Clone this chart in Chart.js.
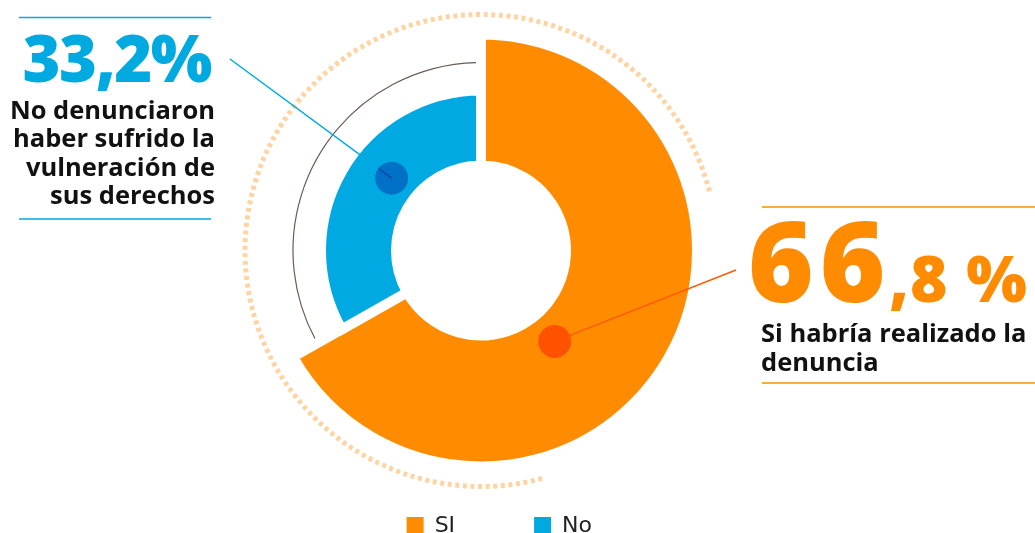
<!DOCTYPE html>
<html lang="es">
<head>
<meta charset="utf-8">
<title>Denuncia</title>
<script src="https://cdn.jsdelivr.net/npm/chart.js@4.4.1/dist/chart.umd.min.js"></script>
<style>
  html, body { margin: 0; padding: 0; background: #fff; overflow: hidden; }
  #clip { width: 1035px; height: 533px; overflow: hidden; }
  #wrap { position: relative; width: 1035px; height: 547px; }
</style>
</head>
<body>
<div id="clip">
  <div id="wrap"><canvas id="chart"></canvas></div>
</div>
<script>
// DATOS
const labels = ["SI", "No"];
const values = [66.8, 33.2];
const colors = ["#ff8c00", "#00a9e1"];
const leftText = ["No denunciaron", "haber sufrido la", "vulneración de", "sus derechos"];
const rightText = ["Si habría realizado la", "denuncia"];

// radios de cada anillo (px) - el naranja es mas grande
const ringOuter = [216, 160];
const ringInner = 85;

const total = values.reduce((a, b) => a + b, 0);
const pct = (v) => v.toFixed(1).replace(".", ",");

// grados desde arriba, sentido horario -> radianes del canvas
const rad = (deg) => ((deg - 90) * Math.PI) / 180;

function drawRule(ctx, x1, x2, y, color) {
  ctx.strokeStyle = color;
  ctx.lineWidth = 1.5;
  ctx.beginPath();
  ctx.moveTo(x1, y);
  ctx.lineTo(x2, y);
  ctx.stroke();
}

function drawLeader(ctx, cx, cy, angle, r, toX, toY, lineColor, dotColor, innerColor) {
  const px = cx + Math.cos(rad(angle)) * r;
  const py = cy + Math.sin(rad(angle)) * r;
  ctx.strokeStyle = lineColor;
  ctx.lineWidth = 1.5;
  ctx.beginPath();
  ctx.moveTo(toX, toY);
  ctx.lineTo(px, py);
  ctx.stroke();
  ctx.fillStyle = dotColor;
  ctx.beginPath();
  ctx.arc(px, py, 16.5, 0, Math.PI * 2);
  ctx.fill();
  // trozo de linea encima del punto
  const a = Math.atan2(toY - py, toX - px);
  ctx.strokeStyle = innerColor;
  ctx.beginPath();
  ctx.moveTo(px, py);
  ctx.lineTo(px + Math.cos(a) * 16, py + Math.sin(a) * 16);
  ctx.stroke();
}

const decorPlugin = {
  id: "decor",
  afterDatasetsUpdate(chart) {
    const arcs = chart.getDatasetMeta(0).data;
    arcs.forEach((arc, i) => {
      arc.outerRadius = ringOuter[i];
      arc.innerRadius = ringInner;
    });
  },
  beforeDatasetsDraw(chart) {
    const ctx = chart.ctx;
    const arc = chart.getDatasetMeta(0).data[0];
    const cx = arc.x;
    const cy = arc.y;
    ctx.save();
    // arco punteado exterior
    ctx.setLineDash([4, 3.6]);
    ctx.strokeStyle = "#ffd4a3";
    ctx.lineWidth = 5;
    ctx.beginPath();
    ctx.arc(cx, cy, 236, rad(165), rad(436));
    ctx.stroke();
    ctx.setLineDash([]);
    // arco fino marron sobre el sector azul
    const startNo = (360 * values[0]) / total;
    ctx.strokeStyle = "#6b5a52";
    ctx.lineWidth = 1.2;
    ctx.beginPath();
    ctx.arc(cx, cy, 188, rad(startNo + 1.5), rad(358.5));
    ctx.stroke();
    ctx.restore();
  },
  afterDatasetsDraw(chart) {
    const ctx = chart.ctx;
    const arc = chart.getDatasetMeta(0).data[0];
    const cx = arc.x;
    const cy = arc.y;
    ctx.save();

    drawLeader(ctx, cx, cy, 309, 115, 230, 59, "#00a9e0", "#0071c7", "#00479a");
    drawLeader(ctx, cx, cy, 141, 117, 736, 270, "#ff5a00", "#ff5200", "#ff5200");

    // bloque izquierdo
    drawRule(ctx, 19, 211, 17.5, "#00a9e0");
    drawRule(ctx, 19, 211, 219, "#00a9e0");
    ctx.textAlign = "right";
    ctx.textBaseline = "alphabetic";
    ctx.fillStyle = "#00a9e0";
    ctx.font = "800 65px 'Open Sans'";
    ctx.letterSpacing = "-1.5px";
    ctx.fillText(pct(values[1]) + "%", 211, 82);
    ctx.letterSpacing = "0px";
    ctx.fillStyle = "#111";
    ctx.font = "bold 25.5px 'Open Sans'";
    leftText.forEach((line, i) => {
      ctx.fillText(line, 215, 118.5 + i * 28.6);
    });

    // bloque derecho
    drawRule(ctx, 762, 1035, 207, "#ff8c00");
    drawRule(ctx, 762, 1035, 383, "#ff8c00");
    const parts = pct(values[0]).split(",");
    ctx.textAlign = "left";
    ctx.fillStyle = "#ff8c00";
    ctx.font = "800 112px 'Open Sans'";
    ctx.letterSpacing = "6px";
    ctx.fillText(parts[0], 748, 302);
    const w = ctx.measureText(parts[0]).width;
    ctx.letterSpacing = "1px";
    ctx.font = "800 64px 'Open Sans'";
    ctx.fillText("," + parts[1] + " %", 748 + w - 2, 302);
    ctx.letterSpacing = "0px";
    ctx.fillStyle = "#111";
    ctx.font = "bold 25.5px 'Open Sans'";
    rightText.forEach((line, i) => {
      ctx.fillText(line, 761, 342 + i * 28.5);
    });

    ctx.restore();
  },
};

const ctx = document.getElementById("chart").getContext("2d");
new Chart(ctx, {
  type: "doughnut",
  data: {
    labels: labels,
    datasets: [
      {
        data: values,
        backgroundColor: colors,
        borderColor: "#ffffff",
        borderWidth: 10,
        borderJoinStyle: "miter",
        hoverOffset: 0,
      },
    ],
  },
  options: {
    responsive: true,
    maintainAspectRatio: false,
    animation: false,
    radius: ringOuter[0],
    cutout: ((ringInner / ringOuter[0]) * 100).toFixed(2) + "%",
    layout: {
      padding: { top: 65, left: 291, right: 364, bottom: 0 },
    },
    plugins: {
      tooltip: { enabled: false },
      legend: {
        position: "bottom",
        align: "end",
        labels: {
          boxWidth: 17,
          boxHeight: 18,
          padding: 79,
          color: "#222",
          font: { family: "'DejaVu Sans'", size: 22 },
          // cuadros sin el borde blanco del anillo
          generateLabels(chart) {
            const base = Chart.overrides.doughnut.plugins.legend.labels.generateLabels(chart);
            return base.map((item) => ({ ...item, lineWidth: 0, strokeStyle: item.fillStyle }));
          },
        },
      },
    },
  },
  plugins: [decorPlugin],
});
</script>
</body>
</html>
